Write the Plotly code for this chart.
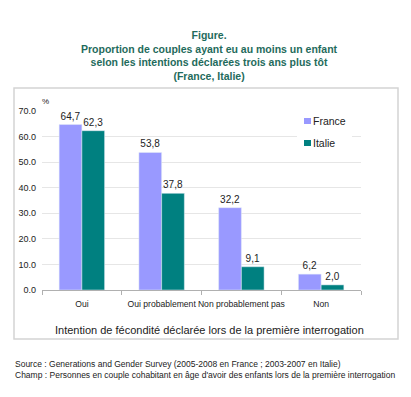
import plotly.graph_objects as go

categories = ["Oui", "Oui probablement", "Non probablement pas", "Non"]
france = [64.7, 53.8, 32.2, 6.2]
italie = [62.3, 37.8, 9.1, 2.0]
yticks = [0, 10, 20, 30, 40, 50, 60, 70]
series_names = ["France", "Italie"]
series_colors = ["#9999FF", "#008080"]

# page is offset by the browser's default 8px body margin
OFF = 8
W, H = 411 - OFF, 397 - OFF
L, R, T, B = 42 - OFF, 411 - 361, 111 - OFF, 397 - 290
pw, ph = W - L - R, H - T - B

def px_x(x):
    return (x - OFF - L) / pw

def px_y(y):
    return (H - B - (y - OFF)) / ph

def fmt(v):
    return f"{v:.1f}".replace(".", ",")

font = "Liberation Sans, Arial, sans-serif"

fig = go.Figure()
for name, vals, col in zip(series_names, [france, italie], series_colors):
    fig.add_trace(go.Bar(x=categories, y=vals, name=name, marker_color=col,
                         text=[fmt(v) for v in vals], textposition="outside",
                         textfont=dict(size=10, color="#222"), cliponaxis=False,
                         showlegend=False))

fig.update_layout(
    width=W, height=H,
    margin=dict(l=L, r=R, t=T, b=B, autoexpand=False),
    paper_bgcolor="white", plot_bgcolor="white",
    barmode="group", bargap=0.43, bargroupgap=0,
    font=dict(family=font, size=10, color="#222"),
    xaxis=dict(showline=True, linecolor="#b0b0b0", ticks="outside", tickson="boundaries",
               ticklen=4, tickcolor="#b0b0b0", tickfont=dict(size=8.6), showgrid=False,
               tickangle=0, automargin=False, ticklabelstandoff=6),
    yaxis=dict(range=[0, 70], tickvals=yticks, tickformat=".1f", showgrid=True,
               gridcolor="#e6e6e6", showline=False, ticks="", tickfont=dict(size=9),
               zeroline=False, automargin=False, ticklabelstandoff=5),
)

# legend (drawn inside the plot, with white box covering gridlines)
fig.add_shape(type="rect", xref="paper", yref="paper", x0=px_x(297), x1=px_x(352),
              y0=px_y(153), y1=px_y(108), fillcolor="white", line=dict(width=0), layer="above")
for i, (name, col) in enumerate(zip(series_names, series_colors)):
    yc = 121 + 22 * i
    fig.add_shape(type="rect", xref="paper", yref="paper", x0=px_x(304), x1=px_x(311),
                  y0=px_y(yc + 3), y1=px_y(yc - 3), fillcolor=col, line=dict(width=0),
                  layer="above")
    fig.add_annotation(text=name, xref="paper", yref="paper", x=px_x(311), y=px_y(yc),
                       xanchor="left", yanchor="middle", showarrow=False,
                       font=dict(size=10.5, color="#222"))

title_lines = ["Figure.",
               "Proportion de couples ayant eu au moins un enfant",
               "selon les intentions déclarées trois ans plus tôt",
               "(France, Italie)"]
fig.add_annotation(text="<b>" + "<br>".join(title_lines) + "</b>", xref="paper", yref="paper",
                   x=px_x(209), y=px_y(27), xanchor="center", yanchor="top", showarrow=False,
                   font=dict(size=10.5, color="#1f6b5c", family=font), align="center")
fig.add_annotation(text="%", xref="paper", yref="paper", x=px_x(40), y=px_y(95),
                   xanchor="left", yanchor="top", showarrow=False, font=dict(size=8))
fig.add_annotation(text="Intention de fécondité déclarée lors de la première interrogation",
                   xref="paper", yref="paper", x=px_x(209), y=px_y(330), xanchor="center",
                   yanchor="middle", showarrow=False, font=dict(size=11, color="#222"))
fig.add_annotation(text="Source : Generations and Gender Survey (2005-2008 en France ; 2003-2007 en Italie)<br>"
                        "Champ : Personnes en couple cohabitant en âge d'avoir des enfants lors de la première interrogation",
                   xref="paper", yref="paper", x=px_x(13), y=px_y(357), xanchor="left",
                   yanchor="top", showarrow=False, align="left", font=dict(size=8.5, color="#222"))
fig.add_shape(type="rect", xref="paper", yref="paper", x0=px_x(14), x1=px_x(398),
              y0=px_y(339), y1=px_y(88), line=dict(color="#d4d4d4", width=1.5), layer="below")

fig.write_html("out.html")
